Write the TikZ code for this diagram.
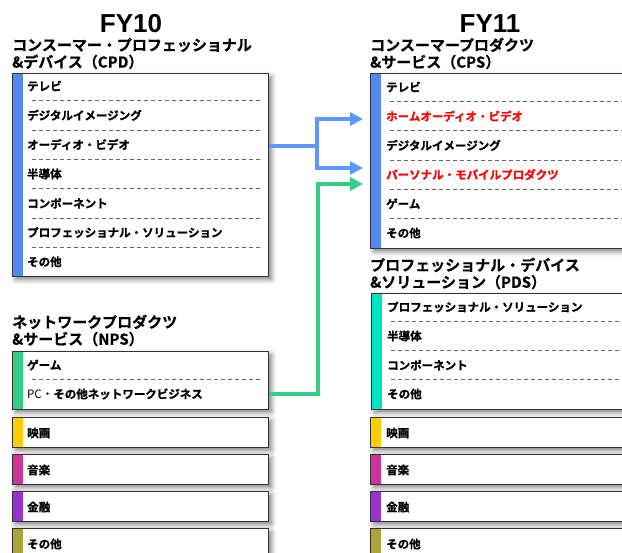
\documentclass[tikz,border=0pt]{standalone}
\usepackage{fontspec}
\usepackage{xcolor}
\usepackage{tikz}
\usetikzlibrary{positioning, arrows.meta, shadows.blur}

\newfontfamily\jp{Noto Sans CJK JP}
\newfontfamily\jpb[FakeBold=1.2]{Noto Sans CJK JP Bold}
\newfontfamily\jph[FakeBold=0.6]{Noto Sans CJK JP Bold}
\newfontfamily\lat{Liberation Sans}

\definecolor{cpdblue}{RGB}{82,136,240}
\definecolor{arrblue}{RGB}{92,152,255}
\definecolor{npsgreen}{RGB}{52,206,134}
\definecolor{pdsteal}{RGB}{0,228,194}
\definecolor{movieyel}{RGB}{255,204,0}
\definecolor{musicpink}{RGB}{206,52,152}
\definecolor{finpurple}{RGB}{152,50,206}
\definecolor{otherolive}{RGB}{170,164,58}

\tikzset{
  seg/.style={draw=black!80, line width=1.1pt, fill=white, anchor=north west, inner sep=0pt,
    blur shadow={shadow xshift=3pt, shadow yshift=-3pt, shadow blur radius=5pt, shadow opacity=50},
    path picture={\fill[#1] (path picture bounding box.north west) rectangle ([xshift=10pt]path picture bounding box.south west);}},
  item/.style={anchor=west, font=\jpb\fontsize{11.5}{13}\selectfont, inner sep=0pt},
  head/.style={anchor=west, align=left, font=\jph\fontsize{15}{17}\selectfont, inner sep=0pt},
  fy/.style={font=\lat\bfseries\fontsize{26}{28}\selectfont, inner sep=0pt},
  sep/.style={draw=black!60, line width=0.6pt, dash pattern=on 4pt off 3pt},
  flow/.style={draw=#1, line width=4pt, -{Triangle[length=13pt, width=13pt]}},
}

\begin{document}
\begin{tikzpicture}[x=1pt, y=-1pt]
    \useasboundingbox (0,0) rectangle (622,553);

    % 1. 年度の見出し
    \node[fy] (fyten) at (131,24) {FY10};
    \node[fy] (fyeleven) at (490,24) {FY11};

    % 2. FY10: CPD
    \node[head] (cpdhead) at (12,53.5) {コンスーマー・プロフェッショナル\\\&デバイス（CPD）};
    \node[seg=cpdblue, minimum width=256pt, minimum height=203pt] (cpd) at (12,73) {};
    \foreach \t [count=\i from 0] in {テレビ, デジタルイメージング, オーディオ・ビデオ, 半導体,
        コンポーネント, プロフェッショナル・ソリューション, その他} {
        \node[item] (cpd\i) at (27,86+\i*29.3) {\t};
    }
    \foreach \i in {1,...,6} {
        \draw[sep] (32,71.4+\i*29.3) -- (262,71.4+\i*29.3);
    }

    % 3. FY10: NPS
    \node[head] (npshead) at (12,330.5) {ネットワークプロダクツ\\\&サービス（NPS）};
    \node[seg=npsgreen, minimum width=256pt, minimum height=58pt] (nps) at (12,351) {};
    \node[item] (nps0) at (27,365) {ゲーム};
    \node[item] (nps1) at (27,394) {{\jp PC・}その他ネットワークビジネス};
    \draw[sep] (32,379.5) -- (262,379.5);

    % 4. FY11: CPS
    \node[head] (cpshead) at (370,53.5) {コンスーマープロダクツ\\\&サービス（CPS）};
    \node[seg=cpdblue, minimum width=270pt, minimum height=175pt] (cps) at (370,73) {};
    \foreach \t/\c [count=\i from 0] in {テレビ/black, ホームオーディオ・ビデオ/red,
        デジタルイメージング/black, パーソナル・モバイルプロダクツ/red, ゲーム/black, その他/black} {
        \node[item, text=\c] (cps\i) at (386,87+\i*29.2) {\t};
    }
    \foreach \i in {1,...,5} {
        \draw[sep] (390,72.4+\i*29.2) -- (640,72.4+\i*29.2);
    }

    % 5. FY11: PDS
    \node[head] (pdshead) at (370,273.5) {プロフェッショナル・デバイス\\\&ソリューション（PDS）};
    \node[seg=pdsteal, minimum width=270pt, minimum height=116pt] (pds) at (371,293) {};
    \foreach \t [count=\i from 0] in {プロフェッショナル・ソリューション, 半導体, コンポーネント, その他} {
        \node[item] (pds\i) at (387,307+\i*29) {\t};
    }
    \foreach \i in {1,...,3} {
        \draw[sep] (391,292.5+\i*29) -- (640,292.5+\i*29);
    }

    % 6. 共通のセグメント (左右とも)
    \foreach \t/\c/\y [count=\i] in {映画/movieyel/417, 音楽/musicpink/454, 金融/finpurple/491, その他/otherolive/528} {
        \node[seg=\c, minimum width=256pt, minimum height=30pt] (lseg\i) at (12,\y) {};
        \node[item] (ltxt\i) at (27,\y+16) {\t};
        \node[seg=\c, minimum width=270pt, minimum height=30pt] (rseg\i) at (370,\y) {};
        \node[item] (rtxt\i) at (386,\y+16) {\t};
    }

    % 7. 組み替えの矢印
    \coordinate (bsplit) at (317,146);
    \coordinate (bin1) at (363,119);
    \coordinate (bin2) at (363,168);
    \coordinate (gsplit) at (318,184);
    \coordinate (gin) at (363,184);
    \draw[flow=arrblue] (cpd.east |- bsplit) -- (bsplit) |- (bin1);
    \draw[flow=arrblue] (bsplit) |- (bin2);
    \draw[flow=npsgreen] (nps.east |- nps1) -| (gsplit) -- (gin);

\end{tikzpicture}
\end{document}
